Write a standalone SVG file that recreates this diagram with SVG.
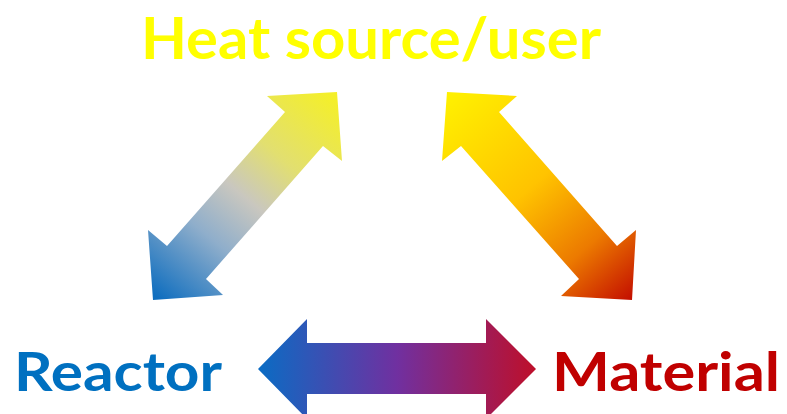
<svg xmlns="http://www.w3.org/2000/svg" width="787" height="414" viewBox="0 0 787 414">
  <style>
    .label { font-family: Lato, "Open Sans", "Liberation Sans", sans-serif; font-weight: bold; }
  </style>
  <defs>
    <linearGradient id="gradHeatReactor" gradientUnits="userSpaceOnUse" x1="330" y1="95" x2="160" y2="300">
      <stop offset="0" stop-color="#F4EF2A"/>
      <stop offset="0.3" stop-color="#E2DF70"/>
      <stop offset="0.5" stop-color="#C9C7BF"/>
      <stop offset="0.7" stop-color="#8FAECB"/>
      <stop offset="1" stop-color="#0F6EBF"/>
    </linearGradient>
    <linearGradient id="gradHeatMaterial" gradientUnits="userSpaceOnUse" x1="450" y1="95" x2="630" y2="300">
      <stop offset="0" stop-color="#FFF000"/>
      <stop offset="0.45" stop-color="#FFC300"/>
      <stop offset="0.75" stop-color="#EC7A00"/>
      <stop offset="1" stop-color="#C41000"/>
    </linearGradient>
    <linearGradient id="gradReactorMaterial" gradientUnits="userSpaceOnUse" x1="258" y1="0" x2="536" y2="0">
      <stop offset="0" stop-color="#0A6CC4"/>
      <stop offset="0.5" stop-color="#7030A0"/>
      <stop offset="1" stop-color="#BE0F2A"/>
    </linearGradient>
  </defs>

  <!-- two-way arrows between the three elements -->
  <g id="connectors">
    <polygon id="arrow-heat-reactor" fill="url(#gradHeatReactor)"
      points="337,92 342,161 323,146 206,279 223,295 153,300 148,230 167,246 285,112 267,96"/>
    <polygon id="arrow-heat-material" fill="url(#gradHeatMaterial)"
      points="447,92 517,96 499,112 617,246 636,230 632,300 561,296 579,279 461,146 442,161"/>
    <polygon id="arrow-reactor-material" fill="url(#gradReactorMaterial)"
      points="258,369 307,319 307,343 486,343 486,319 536,369 486,419 486,394 307,394 307,419"/>
  </g>

  <g id="node-heat">
    <text class="label" x="141" y="59" font-size="58" fill="#FFFF00" textLength="460" lengthAdjust="spacingAndGlyphs">Heat source/user</text>
  </g>
  <g id="node-reactor">
    <text class="label" x="14" y="391" font-size="54" fill="#0070C0" textLength="208" lengthAdjust="spacingAndGlyphs">Reactor</text>
  </g>
  <g id="node-material">
    <text class="label" x="552" y="391" font-size="54" fill="#C00000" textLength="228" lengthAdjust="spacingAndGlyphs">Material</text>
  </g>
</svg>
